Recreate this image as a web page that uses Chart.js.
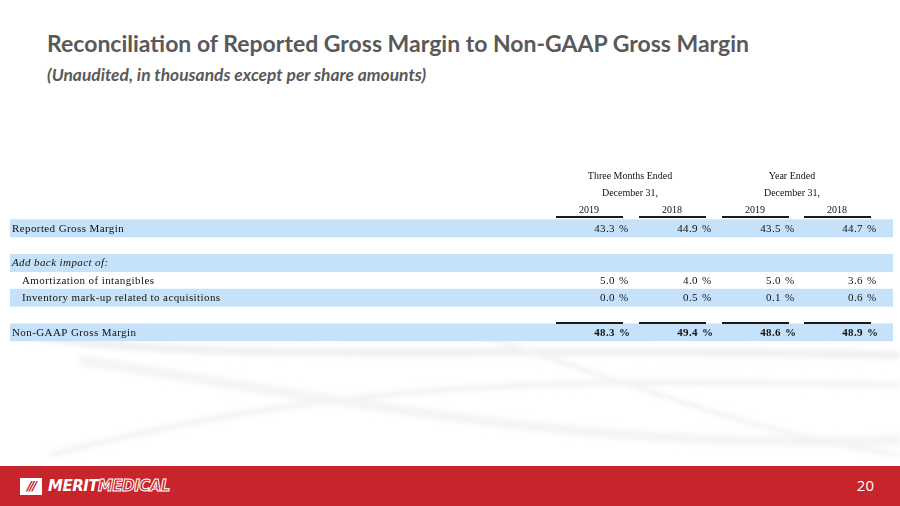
<!DOCTYPE html>
<html>
<head>
<meta charset="utf-8">
<script src="https://cdn.jsdelivr.net/npm/chart.js@4.4.1/dist/chart.umd.min.js"></script>
<style>
  html, body { margin: 0; padding: 0; }
  body { width: 900px; height: 506px; position: relative; overflow: hidden; background: #fff; font-family: Lato, "Open Sans", sans-serif; }
  #title { position: absolute; left: 47px; top: 29px; font-size: 23px; font-weight: bold; color: #595959; white-space: nowrap; }
  #subtitle { position: absolute; left: 47px; top: 64px; font-size: 17.4px; font-weight: bold; font-style: italic; color: #595959; white-space: nowrap; }
  #swoosh { position: absolute; left: 0; top: 330px; width: 900px; height: 140px; }
  #wrap { position: absolute; left: 0; top: 160px; width: 900px; height: 190px; }
  #footer { position: absolute; left: 0; top: 466px; width: 900px; height: 40px; background: #c8242c; }
  #page { position: absolute; right: 26px; top: 9px; color: #fff; font-size: 15px; font-family: "Open Sans", sans-serif; }
  #logo { position: absolute; left: 20px; top: 10px; height: 20px; display: flex; align-items: center; }
  #logo .box { width: 22px; height: 17px; border: 1.5px solid #fff; box-sizing: border-box; color: #c8242c; background: #fff; font: italic bold 13px "DejaVu Sans", sans-serif; line-height: 14px; text-align: center; letter-spacing: -2px; }
  #logo .name { margin-left: 6px; font: italic 900 15px "DejaVu Sans", sans-serif; color: #fff; letter-spacing: -0.5px; }
  #logo .name span { color: transparent; -webkit-text-stroke: 1px #fff; }
</style>
</head>
<body>
<div id="title">Reconciliation of Reported Gross Margin to Non-GAAP Gross Margin</div>
<div id="subtitle">(Unaudited, in thousands except per share amounts)</div>
<svg id="swoosh" viewBox="0 0 900 140" preserveAspectRatio="none">
  <defs><filter id="bl"><feGaussianBlur stdDeviation="2.5"/></filter></defs>
  <g filter="url(#bl)" fill="none">
    <path d="M30 5 C 200 35, 500 15, 900 25" stroke="#f0f0f0" stroke-width="8"/>
    <path d="M50 125 C 300 60, 500 45, 900 55" stroke="#f3f3f3" stroke-width="6"/>
    <path d="M80 30 C 400 80, 600 120, 900 110" stroke="#f4f4f4" stroke-width="10"/>
    <path d="M480 5 C 650 60, 760 105, 900 125" stroke="#f3f3f3" stroke-width="5"/>
  </g>
</svg>
<div id="wrap"><canvas id="tbl"></canvas></div>
<div id="footer">
  <div id="logo"><div class="box">///</div><div class="name">MERIT<span>MEDICAL</span></div></div>
  <div id="page">20</div>
</div>
<script>
// table rows (top to bottom), header rows first
const rowLabels = ['', '', '', 'Reported Gross Margin', '', 'Add back impact of:', 'Amortization of intangibles', 'Inventory mark-up related to acquisitions', '', 'Non-GAAP Gross Margin'];
const shadedRows = [3, 5, 7, 9];
const indentRows = [6, 7];
const periods = ['Three Months Ended', 'Year Ended'];
const periodSub = ['December 31,', 'December 31,'];
const years = ['2019', '2018', '2019', '2018'];
const reported = [43.3, 44.9, 43.5, 44.7];
const amortization = [5.0, 4.0, 5.0, 3.6];
const inventory = [0.0, 0.5, 0.1, 0.6];
const nonGaap = [48.3, 49.4, 48.6, 48.9];

const valueRows = { 3: reported, 6: amortization, 7: inventory, 9: nonGaap };

// column anchors in table units (x scale runs 0..883)
const colCenters = [579, 662, 745, 827];
const periodCenters = [620, 782];

const tablePlugin = {
  id: 'tableText',
  afterDatasetsDraw(chart) {
    const ctx = chart.ctx;
    const xs = chart.scales.x, ys = chart.scales.y;
    const rowH = ys.getPixelForValue(1) - ys.getPixelForValue(0);
    ctx.save();
    ctx.fillStyle = '#111';
    ctx.textBaseline = 'middle';
    const serif = '"Liberation Serif", "Times New Roman", serif';

    // header
    ctx.font = '10px ' + serif;
    ctx.textAlign = 'center';
    periods.forEach((p, i) => {
      ctx.fillText(p, xs.getPixelForValue(periodCenters[i]), ys.getPixelForValue(0));
      ctx.fillText(periodSub[i], xs.getPixelForValue(periodCenters[i]), ys.getPixelForValue(1));
    });
    years.forEach((y, i) => {
      ctx.fillText(y, xs.getPixelForValue(colCenters[i]), ys.getPixelForValue(2));
    });

    // underlines below years and above the total row
    ctx.fillStyle = '#1a1a1a';
    colCenters.forEach(c => {
      const x0 = xs.getPixelForValue(c - 33), x1 = xs.getPixelForValue(c + 34);
      ctx.fillRect(x0, Math.round(ys.getPixelForValue(2) + 5), x1 - x0, 2);
      ctx.fillRect(x0, Math.round(ys.getPixelForValue(9) - rowH / 2 - 1.5), x1 - x0, 2);
    });

    // row labels
    ctx.fillStyle = '#111';
    ctx.textAlign = 'left';
    ctx.letterSpacing = '0.4px';
    rowLabels.forEach((lab, r) => {
      if (!lab) return;
      ctx.font = (r === 5 ? 'italic ' : '') + '11px ' + serif;
      const x = xs.getPixelForValue(indentRows.includes(r) ? 12 : 2);
      ctx.fillText(lab, x, ys.getPixelForValue(r) + 0.5);
    });

    // values
    Object.keys(valueRows).forEach(k => {
      const r = +k;
      const bold = r === 9 ? 'bold ' : '';
      valueRows[r].forEach((v, i) => {
        const y = ys.getPixelForValue(r) + 0.5;
        ctx.font = bold + '11px ' + serif;
        ctx.textAlign = 'right';
        ctx.fillText(v.toFixed(1), xs.getPixelForValue(colCenters[i] + 26), y);
        ctx.textAlign = 'left';
        ctx.fillText('%', xs.getPixelForValue(colCenters[i] + 30), y);
      });
    });
    ctx.restore();
  }
};

new Chart(document.getElementById('tbl'), {
  type: 'bar',
  data: {
    labels: rowLabels.map((l, i) => 'r' + i),
    datasets: [{
      label: 'bands',
      data: rowLabels.map((l, i) => shadedRows.includes(i) ? [0, 883] : null),
      backgroundColor: '#c6e2fa',
      borderWidth: 0,
      borderSkipped: false,
      barPercentage: 1,
      categoryPercentage: 1
    }]
  },
  options: {
    indexAxis: 'y',
    responsive: true,
    maintainAspectRatio: false,
    animation: false,
    layout: { padding: { left: 10, right: 7, top: 7.3, bottom: 8.7 } },
    plugins: { legend: { display: false }, tooltip: { enabled: false } },
    scales: {
      x: { type: 'linear', min: 0, max: 883, display: false },
      y: { type: 'category', display: false }
    }
  },
  plugins: [tablePlugin]
});
</script>
</body>
</html>
